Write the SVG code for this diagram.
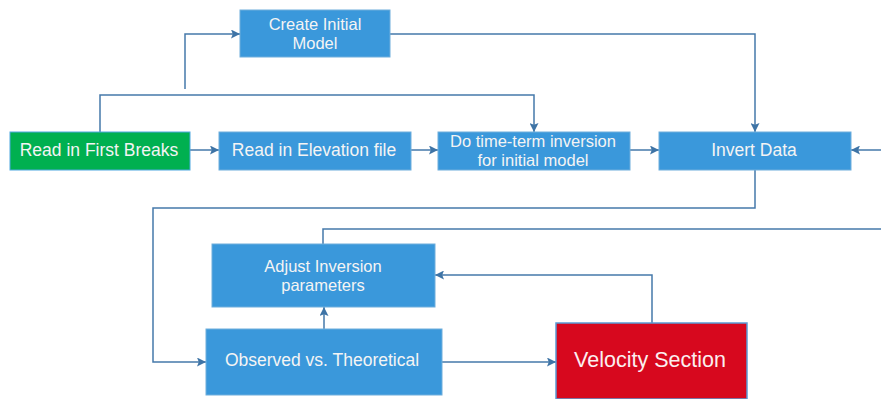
<svg xmlns="http://www.w3.org/2000/svg" width="881" height="399" viewBox="0 0 881 399">
<style>
.b{fill:#3A98DB;stroke:#6FAEDC;stroke-width:1}
.g{fill:#00B050;stroke:#4FA8E0;stroke-width:1}
.r{fill:#D7081E;stroke:#5B9BD5;stroke-width:1.5}
.t{font-family:"Liberation Sans",Arial,sans-serif;font-size:17.5px;fill:#F4F4F4;text-anchor:middle}
.t2{font-family:"Liberation Sans",Arial,sans-serif;font-size:16.5px;fill:#F4F4F4;text-anchor:middle}
.tv{font-family:"Liberation Sans",Arial,sans-serif;font-size:21.5px;fill:#FBEFF0;text-anchor:middle}
.c{fill:none;stroke:#4579AA;stroke-width:1.5}
</style>
<defs>
<marker id="a" viewBox="0 0 10 10" refX="10" refY="5" markerWidth="9" markerHeight="9" markerUnits="userSpaceOnUse" orient="auto">
<path d="M0,0 L10,5 L0,10 L2,5 z" fill="#3E74A6"/>
</marker>
</defs>
<rect width="881" height="399" fill="#FFFFFF"/>
<g id="connectors">
<path class="c" d="M185,89 V34 H240" marker-end="url(#a)"/>
<path class="c" d="M100,132 V95 H534 V132" marker-end="url(#a)"/>
<path class="c" d="M390,34 H755 V132" marker-end="url(#a)"/>
<path class="c" d="M190,150 H219" marker-end="url(#a)"/>
<path class="c" d="M411,150 H438" marker-end="url(#a)"/>
<path class="c" d="M630,150 H659" marker-end="url(#a)"/>
<path class="c" d="M881,150 H851" marker-end="url(#a)"/>
<path class="c" d="M755,170 V208 H153 V362 H206" marker-end="url(#a)"/>
<path class="c" d="M324,329 V307" marker-end="url(#a)"/>
<path class="c" d="M323,244 V229 H881"/>
<path class="c" d="M442,362 H556" marker-end="url(#a)"/>
<path class="c" d="M652,323 V275 H435" marker-end="url(#a)"/>
</g>
<g id="create-initial-model">
<rect class="b" x="240" y="10" width="150" height="47"/>
<text class="t2" x="315" y="30">Create Initial</text>
<text class="t2" x="315" y="49">Model</text>
</g>
<g id="read-first-breaks">
<rect class="g" x="10" y="132" width="180" height="38"/>
<text class="t" x="99" y="156">Read in First Breaks</text>
</g>
<g id="read-elevation">
<rect class="b" x="219" y="132" width="192" height="38"/>
<text class="t" x="314" y="156">Read in Elevation file</text>
</g>
<g id="time-term">
<rect class="b" x="438" y="132" width="192" height="38"/>
<text class="t2" x="533" y="147">Do time-term inversion</text>
<text class="t2" x="533" y="166">for initial model</text>
</g>
<g id="invert-data">
<rect class="b" x="659" y="132" width="192" height="38"/>
<text class="t" x="754" y="156">Invert Data</text>
</g>
<g id="adjust-inversion">
<rect class="b" x="212" y="244" width="223" height="63"/>
<text class="t2" x="323" y="272">Adjust Inversion</text>
<text class="t2" x="323" y="291">parameters</text>
</g>
<g id="observed-theoretical">
<rect class="b" x="206" y="329" width="236" height="66"/>
<text class="t" x="322" y="366">Observed vs. Theoretical</text>
</g>
<g id="velocity-section">
<rect class="r" x="556" y="323" width="191" height="76"/>
<text class="tv" x="650" y="367">Velocity Section</text>
</g>
</svg>
